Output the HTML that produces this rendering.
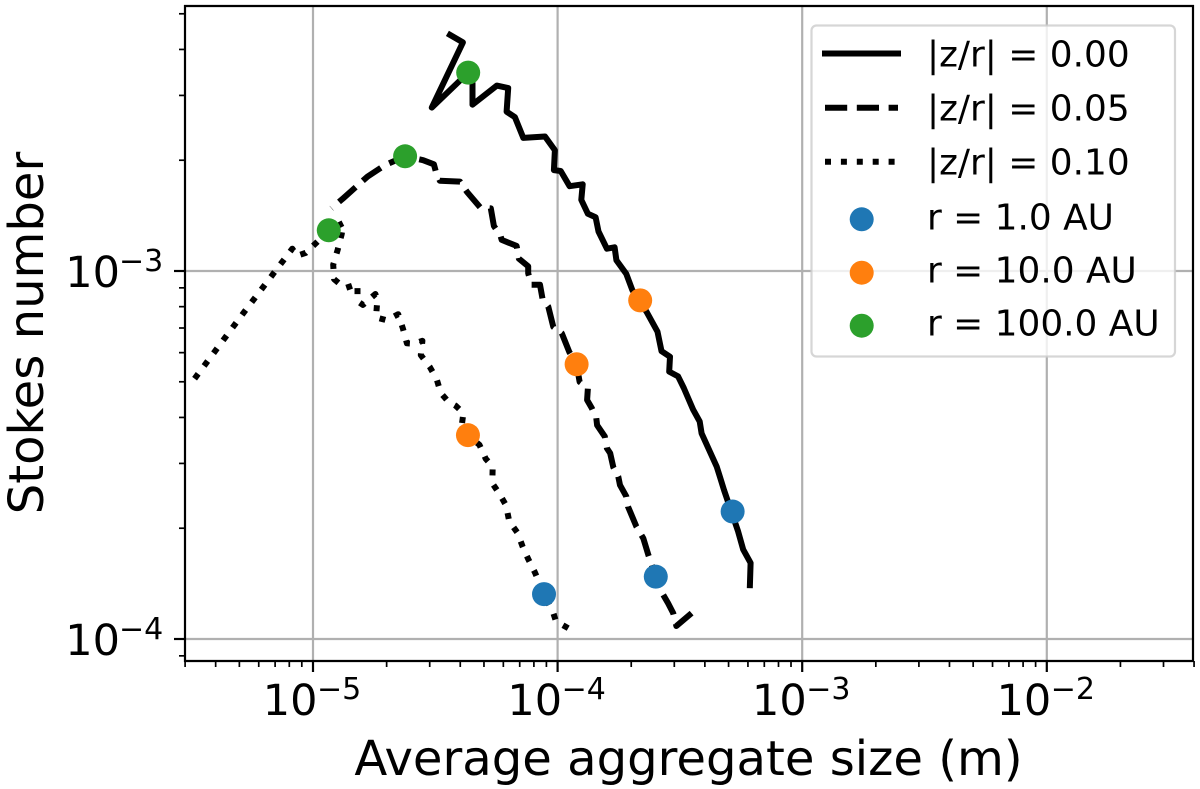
<!DOCTYPE html>
<html lang="en">
<head>
<meta charset="utf-8">
<title>Stokes number vs average aggregate size</title>
<style>
  html, body { margin: 0; padding: 0; background: #fff; }
  svg { display: block; }
  text { font-family: "DejaVu Sans", "Liberation Sans", sans-serif; fill: #000; }
</style>
</head>
<body>
<svg id="chart" xmlns="http://www.w3.org/2000/svg" width="1200" height="789" viewBox="0 0 1200 789">
  <rect x="0" y="0" width="1200" height="789" fill="#fff"/>
  <g id="grid"></g>
  <g id="series"></g>
  <g id="markers"></g>
  <g id="frame" fill="none" stroke="#000" stroke-width="2.2">
    <line x1="185" y1="5" x2="185" y2="662"/>
    <line x1="1193" y1="5" x2="1193" y2="662"/>
    <line x1="184" y1="6" x2="1194" y2="6"/>
    <line x1="184" y1="661" x2="1194" y2="661"/>
  </g>
  <g id="ticks"></g>
  <text x="688.5" y="775" font-size="48.1" text-anchor="middle">Average aggregate size (m)</text>
  <text transform="translate(43 333) rotate(-90)" font-size="48.1" text-anchor="middle">Stokes number</text>

  <g>
    <rect x="811.5" y="25.5" width="363.5" height="331" rx="5" ry="5" fill="#fff" fill-opacity="0.8" stroke="#ccc" stroke-opacity="0.8" stroke-width="2.2"/>
    <line x1="825" y1="53.5" x2="898" y2="53.5" stroke="#000" stroke-width="6" stroke-linecap="square"/>
    <line x1="825" y1="107.7" x2="898" y2="107.7" stroke="#000" stroke-width="6" stroke-dasharray="22.2 9.6"/>
    <line x1="825" y1="161.7" x2="898" y2="161.7" stroke="#000" stroke-width="6" stroke-dasharray="6 9.9"/>
    <circle cx="861.7" cy="219.3" r="12" fill="#1f77b4"/>
    <circle cx="861.7" cy="272.7" r="12" fill="#ff7f0e"/>
    <circle cx="861.7" cy="325.7" r="12" fill="#2ca02c"/>
    <text x="927" y="66.5" font-size="35.9">|z/r| = 0.00</text>
    <text x="927" y="120.7" font-size="35.9">|z/r| = 0.05</text>
    <text x="927" y="174.7" font-size="35.9">|z/r| = 0.10</text>
    <text x="927" y="229.3" font-size="35.9">r = 1.0 AU</text>
    <text x="927" y="282.7" font-size="35.9">r = 10.0 AU</text>
    <text x="927" y="335.7" font-size="35.9">r = 100.0 AU</text>
  </g>
</svg>
<script>
// Sizes in metres, Stokes numbers dimensionless; each series runs from r = 1 AU outward.
const solidSize = [61.1e-5,61.5e-5,57.4e-5,54.7e-5,47.9e-5,46.1e-5,44.7e-5,38.8e-5,38.1e-5,35.8e-5,32.8e-5,31.1e-5,28.6e-5,28.8e-5,26.6e-5,25.6e-5,23.1e-5,20.2e-5,19.1e-5,17.4e-5,17.1e-5,15.9e-5,14.7e-5,14.3e-5,13.3e-5,12.5e-5,12.66e-5,11.2e-5,10.3e-5,9.66e-5,9.75e-5,8.88e-5,7.24e-5,6.69e-5,6.19e-5,6.28e-5,5.64e-5,4.49e-5,4.49e-5,4.31e-5,3.06e-5,4.10e-5,3.63e-5];
const solidStokes = [1.40e-4,1.61e-4,1.75e-4,1.96e-4,2.54e-4,2.76e-4,2.94e-4,3.62e-4,3.90e-4,4.20e-4,4.81e-4,5.17e-4,5.33e-4,5.85e-4,6.06e-4,6.84e-4,7.75e-4,8.88e-4,9.82e-4,10.7e-4,11.6e-4,11.5e-4,12.8e-4,14.0e-4,14.3e-4,15.6e-4,17.2e-4,17.0e-4,18.7e-4,18.8e-4,21.3e-4,23.2e-4,23.0e-4,26.2e-4,27.1e-4,31.4e-4,31.9e-4,28.3e-4,32.4e-4,34.6e-4,27.8e-4,41.8e-4,43.8e-4];

const dashedSize = [35.3e-5,30.6e-5,29.7e-5,28.3e-5,27.0e-5,25.2e-5,23.5e-5,22.4e-5,21.0e-5,19.4e-5,19.1e-5,18.0e-5,17.7e-5,16.9e-5,16.4e-5,15.9e-5,15.6e-5,14.5e-5,14.4e-5,13.8e-5,13.2e-5,13.3e-5,12.3e-5,11.96e-5,11.15e-5,10.4e-5,9.6e-5,9.16e-5,8.69e-5,8.47e-5,7.83e-5,7.58e-5,7.58e-5,6.95e-5,6.8e-5,5.91e-5,5.85e-5,5.49e-5,5.33e-5,4.82e-5,4.26e-5,3.99e-5,3.3e-5,3.18e-5,3.12e-5,2.82e-5,2.38e-5,1.97e-5,1.67e-5,1.33e-5,1.19e-5];
const dashedStokes = [1.176e-4,1.085e-4,1.176e-4,1.25e-4,1.32e-4,1.477e-4,1.69e-4,1.878e-4,2.02e-4,2.29e-4,2.44e-4,2.62e-4,2.76e-4,2.93e-4,3.196e-4,3.30e-4,3.55e-4,3.81e-4,3.98e-4,4.24e-4,4.46e-4,4.81e-4,5.0e-4,5.58e-4,6.03e-4,6.77e-4,7.05e-4,8.0e-4,8.35e-4,9.17e-4,9.17e-4,9.86e-4,10.3e-4,10.8e-4,11.7e-4,12.15e-4,12.45e-4,13.25e-4,14.8e-4,14.9e-4,16.4e-4,17.5e-4,17.6e-4,18.6e-4,19.5e-4,20.0e-4,20.5e-4,19.4e-4,18.05e-4,15.77e-4,14.8e-4];

const dottedSize = [11.05e-5,9.85e-5,9.6e-5,8.8e-5,8.08e-5,7.58e-5,7.2e-5,6.87e-5,6.34e-5,6.15e-5,5.78e-5,5.41e-5,5.43e-5,5.08e-5,4.79e-5,4.3e-5,4.06e-5,4.12e-5,3.84e-5,3.57e-5,3.33e-5,3.2e-5,3.0e-5,2.76e-5,2.8e-5,2.59e-5,2.42e-5,2.33e-5,2.23e-5,2.0e-5,1.81e-5,1.83e-5,1.8e-5,1.6e-5,1.52e-5,1.52e-5,1.35e-5,1.22e-5,1.21e-5,1.26e-5,1.31e-5,1.33e-5,1.16e-5,1.04e-5,0.934e-5,0.858e-5,0.823e-5,0.519e-5,0.323e-5];
const dottedStokes = [1.07e-4,1.117e-4,1.176e-4,1.324e-4,1.515e-4,1.65e-4,1.78e-4,1.94e-4,2.09e-4,2.31e-4,2.48e-4,2.65e-4,2.94e-4,3.09e-4,3.37e-4,3.58e-4,3.81e-4,4.11e-4,4.30e-4,4.42e-4,4.66e-4,5.09e-4,5.49e-4,5.91e-4,6.46e-4,6.34e-4,6.36e-4,6.98e-4,7.63e-4,7.35e-4,7.48e-4,8.26e-4,8.66e-4,8.09e-4,8.28e-4,9.22e-4,8.98e-4,9.5e-4,10.4e-4,11.4e-4,12.6e-4,13.5e-4,12.9e-4,12.0e-4,11.2e-4,10.99e-4,11.5e-4,7.68e-4,5.03e-4];

// Marker values, ordered solid / dashed / dotted.
const r1Size = [51.95e-5,25.2e-5,8.8e-5];
const r1Stokes = [2.22e-4,1.477e-4,1.324e-4];
const r10Size = [21.76e-5,11.96e-5,4.3e-5];
const r10Stokes = [8.32e-4,5.58e-4,3.58e-4];
const r100Size = [4.31e-5,2.38e-5,1.16e-5];
const r100Stokes = [34.6e-4,20.5e-4,12.9e-4];

// Tick values and labels.
const xMajorExponents = [-5,-4,-3,-2];
const yMajorExponents = [-4,-3];
const xMinorDecades = [-6,-5,-4,-3,-2];
const yMinorDecades = [-5,-4,-3];
const minorMultipliers = [2,3,4,5,6,7,8,9];

const NS = 'http://www.w3.org/2000/svg';

function xScale(v) { return 313 + (Math.log10(v) + 5) * 244.6; }
function yScale(v) { return 271 - (Math.log10(v) + 3) * 368; }

function make(tag, parent, attrs) {
  const el = document.createElementNS(NS, tag);
  for (const k in attrs) el.setAttribute(k, attrs[k]);
  parent.appendChild(el);
  return el;
}

const gridG = document.getElementById('grid');
const seriesG = document.getElementById('series');
const markersG = document.getElementById('markers');
const ticksG = document.getElementById('ticks');

xMajorExponents.forEach(function (e) {
  const px = xScale(Math.pow(10, e));
  const g = make('line', gridG, { x1: px, y1: 6, x2: px, y2: 661, stroke: '#b0b0b0', 'stroke-width': 2.2 });
  
  
  const t = make('line', ticksG, { x1: px, y1: 661, x2: px, y2: 672, stroke: '#000', 'stroke-width': 2.2 });
  
  
  const base = make('text', ticksG, { x: px + 4.5, y: 715, 'font-size': 43, 'text-anchor': 'end' });
  base.textContent = '10';
  
  
  const sup = make('text', ticksG, { x: px + 4, y: 699, 'font-size': 30 });
  sup.textContent = '\u2212' + Math.abs(e);
  
  
});

yMajorExponents.forEach(function (e) {
  const py = yScale(Math.pow(10, e));
  const g = make('line', gridG, { x1: 185, y1: py, x2: 1193, y2: py, stroke: '#b0b0b0', 'stroke-width': 2.2 });
  
  
  const t = make('line', ticksG, { x1: 174, y1: py, x2: 185, y2: py, stroke: '#000', 'stroke-width': 2.2 });
  
  
  const base = make('text', ticksG, { x: 120, y: py + 16, 'font-size': 43, 'text-anchor': 'end' });
  base.textContent = '10';
  
  
  const sup = make('text', ticksG, { x: 119, y: py, 'font-size': 30 });
  sup.textContent = '\u2212' + Math.abs(e);
  
  
});

xMinorDecades.forEach(function (d) {
  minorMultipliers.forEach(function (m) {
    const px = xScale(m * Math.pow(10, d));
    if (px < 184 || px > 1194.5) return;
    const t = make('line', ticksG, { x1: px, y1: 661, x2: px, y2: 667, stroke: '#000', 'stroke-width': 1.7 });
    
    
  });
});

yMinorDecades.forEach(function (d) {
  minorMultipliers.forEach(function (m) {
    const py = yScale(m * Math.pow(10, d));
    if (py < 6 || py > 661) return;
    const t = make('line', ticksG, { x1: 179, y1: py, x2: 185, y2: py, stroke: '#000', 'stroke-width': 1.7 });
    
    
  });
});

function pointsOf(sizes, stokes) {
  return sizes.map(function (s, i) {
    return xScale(s).toFixed(1) + ',' + yScale(stokes[i]).toFixed(1);
  }).join(' ');
}

const solidLine = make('polyline', seriesG, { points: pointsOf(solidSize, solidStokes), fill: 'none', stroke: '#000', 'stroke-width': 6, 'stroke-linejoin': 'round', 'stroke-linecap': 'square' });



const dashedLine = make('polyline', seriesG, { points: pointsOf(dashedSize, dashedStokes), fill: 'none', stroke: '#000', 'stroke-width': 6, 'stroke-linejoin': 'round', 'stroke-dasharray': '22.2 9.6' });



const dottedLine = make('polyline', seriesG, { points: pointsOf(dottedSize, dottedStokes), fill: 'none', stroke: '#000', 'stroke-width': 6, 'stroke-linejoin': 'round', 'stroke-dasharray': '6 9.9' });



r1Size.forEach(function (s, i) {
  const c = make('circle', markersG, { cx: xScale(s), cy: yScale(r1Stokes[i]), r: 12, fill: '#1f77b4' });
  
  
});
r10Size.forEach(function (s, i) {
  const c = make('circle', markersG, { cx: xScale(s), cy: yScale(r10Stokes[i]), r: 12, fill: '#ff7f0e' });
  
  
});
r100Size.forEach(function (s, i) {
  const c = make('circle', markersG, { cx: xScale(s), cy: yScale(r100Stokes[i]), r: 12, fill: '#2ca02c' });
  
  
});
</script>
</body>
</html>
